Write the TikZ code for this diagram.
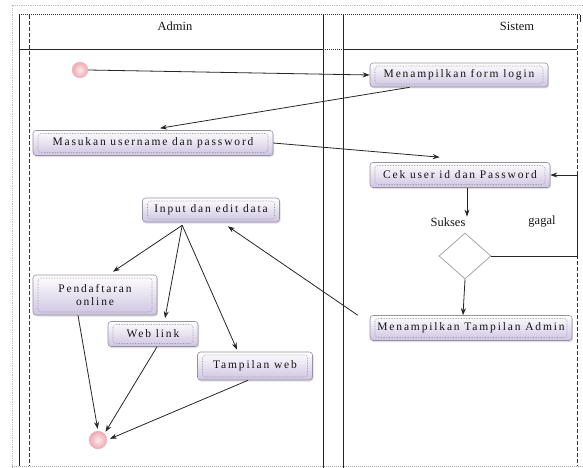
\documentclass[tikz,border=0pt]{standalone}
\usepackage{fontspec}
\setmainfont{Liberation Serif}
\newfontfamily\boxfont[LetterSpace=16]{Liberation Serif}
\usetikzlibrary{shapes.geometric,arrows.meta,calc,shadows}
\definecolor{boxbot}{RGB}{206,196,226}
\definecolor{boxline}{RGB}{150,145,165}
\definecolor{txt}{RGB}{20,20,20}
\definecolor{dotin}{RGB}{252,232,234}
\definecolor{dotout}{RGB}{236,170,180}
\tikzset{
  actbox/.style={rectangle, rounded corners=3pt, draw=boxline, line width=0.6pt,
    top color=white, bottom color=boxbot, drop shadow={shadow xshift=1pt, shadow yshift=-1.5pt, opacity=0.25},
    font=\boxfont\fontsize{11.5}{13}\selectfont, text=txt, align=center, inner sep=2pt,
    path picture={\draw[densely dotted, gray!80] ([shift={(5pt,-3pt)}]path picture bounding box.north west) rectangle ([shift={(-5pt,3pt)}]path picture bounding box.south east);}},
  flow/.style={-{Stealth[length=7pt,width=5pt]}, line width=0.8pt, black!85},
  dot/.style={circle, inner color=dotin, outer color=dotout, draw=dotout!80, line width=0.3pt},
  lane/.style={line width=1pt, black!85},
  lanedash/.style={line width=0.9pt, black!80, dash pattern=on 4pt off 2pt},
  lbl/.style={font=\fontsize{12.5}{14}\selectfont, text=txt},
}
\begin{document}
\begin{tikzpicture}[x=1pt,y=-1pt]
\useasboundingbox (0,0) rectangle (583,468);
% outer frame
\draw[gray!50, densely dotted, line width=0.8pt] (12,468) -- (12,5) -- (583,5);
\draw[gray!70, densely dotted, line width=1pt] (12,466) -- (583,466);
\draw[black!80, densely dotted, line width=1pt] (19,15) -- (580,15);
\draw[lane] (19,15) -- (19,466);
\draw[lane] (580,15) -- (580,22);
\draw[lanedash] (29,15) -- (29,466);
\draw[lanedash] (577,15) -- (577,466);
\draw[lane] (323,15) -- (323,468);
\draw[lane] (343,15) -- (343,468);
\draw[lane] (19,50) -- (323,50);
\draw[lane] (343,50) -- (577,50);
\draw[black!80, densely dotted, line width=1pt] (323,50) -- (343,50);
\node[lbl, font=\fontsize{12.5}{14}\selectfont] (hA) at (175,26) {Admin};
\node[lbl, font=\fontsize{12.5}{14}\selectfont] (hS) at (517,26) {Sistem};
\coordinate (rx) at (577,0);
% nodes
\node[dot, minimum size=16pt, inner sep=0] (s) at (80,70) {};
\node[actbox, minimum width=178pt, minimum height=24pt] (b1) at (459,75) {Menampilkan form login};
\node[actbox, minimum width=240pt, minimum height=25pt] (b2) at (153,143) {Masukan username dan password};
\node[actbox, minimum width=180pt, minimum height=25pt] (b3) at (460,175) {Cek user id dan Password};
\node[lbl] (ls) at (448,222) {Sukses};
\node[lbl] (lg) at (542,222) {gagal};
\node[diamond, draw=gray!70, line width=0.8pt, fill=white, minimum width=52pt, minimum height=46pt, inner sep=0] (d) at (465,256) {};
\node[actbox, minimum width=202pt, minimum height=25pt] (b4) at (471,328) {Menampilkan Tampilan Admin};
\node[actbox, minimum width=137pt, minimum height=24pt] (b5) at (211,210) {Input dan edit data};
\node[actbox, minimum width=124pt, minimum height=40pt] (b6) at (95,295) {Pendaftaran\\online};
\node[actbox, minimum width=90pt, minimum height=25pt] (b7) at (153,334) {Web link};
\node[actbox, minimum width=115pt, minimum height=28pt] (b8) at (255,366) {Tampilan web};
\node[dot, minimum size=18pt, inner sep=0] (e) at (98,440) {};
% connectors
\draw[flow] (s.east) -- (b1.west);
\draw[flow] ($(b1.south west)+(40,0)$) -- ($(b2.north)+(7,-2)$);
\draw[flow] (b2.east) -- ($(b3.north west)+(70,-5)$);
\draw[flow] ($(b3.south)+(7,0)$) -- ($(d.north)+(2,-16)$);
\draw[flow] (d.south) -- ($(b4.north)+(-8,0)$);
\draw[flow] (d.east) -- (d.east -| rx) |- (b3.east);
\draw[flow] ($(b4.north west)+(-12,0)$) -- ($(b5.south east)+(-52,4)$);
\coordinate (fan) at ($(b5.south west)+(40,3)$);
\draw[flow] (fan) -- ($(b6.north)+(18,-3)$);
\draw[flow] (fan) -- ($(b7.north)+(12,-3)$);
\draw[flow] (fan) -- ($(b8.north)+(-18,-2)$);
\draw[flow, shorten >=2pt] ($(b6.south)+(-17,0)$) -- (e.north);
\draw[flow, shorten >=2pt] ($(b7.south)+(4,0)$) -- (e.north east);
\draw[flow, shorten >=3pt] ($(b8.south)+(-7,0)$) -- (e.east);
\end{tikzpicture}
\end{document}
